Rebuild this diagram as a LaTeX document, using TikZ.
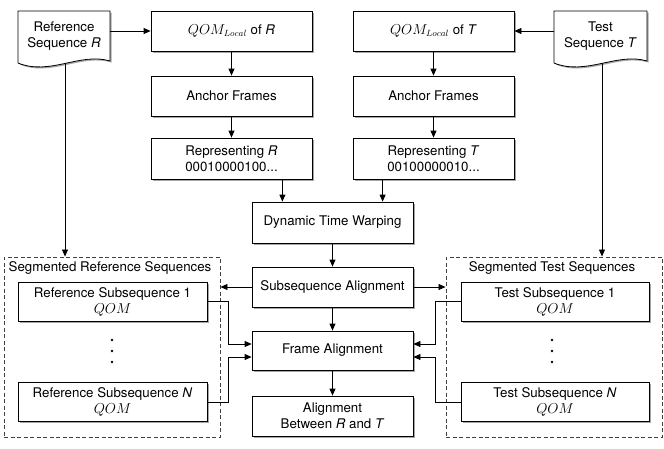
\documentclass[tikz,border=0pt]{standalone}
\usepackage{fontspec}
\setmainfont{TeX Gyre Heros}
\usetikzlibrary{arrows.meta,shadows,calc}
\begin{document}
\begin{tikzpicture}[x=1pt,y=-1pt, font=\fontsize{13.3}{16}\selectfont,
 box/.style={draw, line width=0.8pt, fill=white, minimum width=161pt, minimum height=40pt, align=center, inner sep=0pt, drop shadow={shadow xshift=1.5pt, shadow yshift=-1.5pt, opacity=0.35, fill=black}},
 subbox/.style={box, minimum width=189pt, minimum height=39pt},
 docshape/.style={draw, line width=0.8pt, fill=white, drop shadow={shadow xshift=1.5pt, shadow yshift=-1.5pt, opacity=0.35, fill=black}},
 arr/.style={line width=0.8pt, -{Triangle[length=7pt,width=6pt]}},
 grp/.style={draw=black!75, dash pattern=on 4pt off 2.5pt, line width=0.9pt, minimum width=216pt, minimum height=180pt, inner sep=0pt},
 dot/.style={circle, fill=black, inner sep=0pt, minimum size=2.6pt}]
\useasboundingbox (0,0) rectangle (664,448);

% group boxes
\node[grp] (dashL) at (112,347) {};
\node[grp] (dashR) at (554,347) {};
\node (labL) at (110,268) {Segmented Reference Sequences};
\node (labR) at (552,268) {Segmented Test Sequences};

% vertical lines from documents (drawn first, documents cover their tops)
\coordinate (refbot) at (65,50);
\coordinate (testbot) at (602,50);
\draw[arr] (refbot) -- (refbot |- dashL.north);
\draw[arr] (testbot) -- (testbot |- dashR.north);

% document shapes
\path[docshape] (18,11) -- (110,11) -- (110,61) .. controls (80,52) and (50,76) .. (18,63) -- cycle;
\path[docshape] (554,11) -- (647,11) -- (647,61) .. controls (617,52) and (586,76) .. (554,63) -- cycle;
\node[minimum width=92pt, minimum height=50pt, inner sep=0pt, align=center] (refdoc) at (64,36) {Reference\\Sequence \textit{R}};
\node[minimum width=93pt, minimum height=50pt, inner sep=0pt, align=center] (testdoc) at (600.5,36) {Test\\Sequence \textit{T}};

% main column boxes
\node[box] (qomR) at (231.5,31) {$QOM_{Local}$ of \textit{R}};
\node[box] (anchR) at (231.5,96) {Anchor Frames};
\node[box, minimum height=41pt] (repR) at (231.5,158.5) {Representing \textit{R}\\00010000100...};
\node[box] (qomT) at (433.5,31) {$QOM_{Local}$ of \textit{T}};
\node[box] (anchT) at (433.5,96) {Anchor Frames};
\node[box, minimum height=41pt] (repT) at (433.5,158.5) {Representing \textit{T}\\00100000010...};
\node[box, minimum height=41pt] (dtw) at (332.5,222.5) {Dynamic Time Warping};
\node[box] (subal) at (332.5,287) {Subsequence Alignment};
\node[box, minimum height=39pt] (frame) at (332.5,350.5) {Frame Alignment};
\node[box] (final) at (332.5,416) {Alignment\\Between \textit{R} and \textit{T}};

% subsequence boxes
\node[subbox] (refsub1) at (112.5,301.5) {Reference Subsequence 1\\$QOM$};
\node[subbox] (refsubN) at (112.5,402) {Reference Subsequence \textit{N}\\$QOM$};
\node[subbox, minimum width=188pt] (testsub1) at (555,301.5) {Test Subsequence 1\\$QOM$};
\node[subbox, minimum width=188pt] (testsubN) at (555,402) {Test Subsequence \textit{N}\\$QOM$};

% dots
\node[dot] (dl1) at (112,340) {};
\node[dot] (dl2) at (112,351) {};
\node[dot] (dl3) at (112,362) {};
\node[dot] (dr1) at (552,340) {};
\node[dot] (dr2) at (552,351) {};
\node[dot] (dr3) at (552,362) {};

% connectors
\draw[arr] (qomR.west -| refdoc.east) -- (qomR.west);
\draw[arr] (qomT.east -| testdoc.west) -- (qomT.east);
\draw[arr] (qomR) -- (anchR);
\draw[arr] (anchR) -- (repR);
\draw[arr] (qomT) -- (anchT);
\draw[arr] (anchT) -- (repT);
\draw[arr] ([xshift=-30pt]repR.south east) -- ([xshift=-30pt]repR.south east |- dtw.north);
\draw[arr] ([xshift=30pt]repT.south west) -- ([xshift=30pt]repT.south west |- dtw.north);
\draw[arr] (dtw) -- (subal);
\draw[arr] (subal) -- (frame);
\draw[arr] (frame) -- (final);
\draw[arr] (subal.west) -- (subal.west -| dashL.east);
\draw[arr] (subal.east) -- (subal.east -| dashR.west);
\draw[arr] (refsub1.east) -- ++(21,0) |- ([yshift=6.5pt]frame.west);
\draw[arr] (refsubN.east) -- ++(21,0) |- ([yshift=-6.5pt]frame.west);
\draw[arr] (testsub1.west) -- ++(-25,0) |- ([yshift=6.5pt]frame.east);
\draw[arr] (testsubN.west) -- ++(-25,0) |- ([yshift=-6.5pt]frame.east);
\end{tikzpicture}
\end{document}
